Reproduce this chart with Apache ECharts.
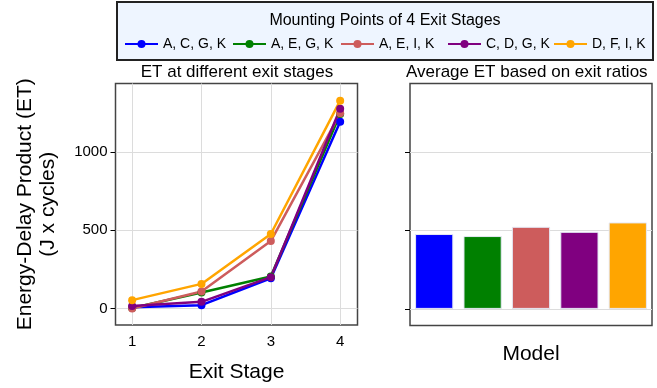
<!DOCTYPE html>
<html><head><meta charset="utf-8">
<script src="https://cdn.jsdelivr.net/npm/echarts@6/dist/echarts.min.js"></script>
<style>html,body{margin:0;padding:0;background:#fff}#c{width:657px;height:388px}</style>
</head><body><div id="c"></div>
<script>
const seriesNames = ['A, C, G, K', 'A, E, G, K', 'A, E, I, K', 'C, D, G, K', 'D, F, I, K'];
const colors = ['#0000ff', '#008000', '#cd5c5c', '#800080', '#ffa500'];
const exitStages = [1, 2, 3, 4];
const etACGK = [8, 21, 193, 1195];
const etAEGK = [3, 102, 204, 1244];
const etAEIK = [0, 108, 431, 1248];
const etCDGK = [15, 42, 200, 1278];
const etDFIK = [53, 157, 476, 1329];
const avgET = [478, 465, 524, 492, 552];
const yTicks = [0, 500, 1000];
const xTicks = [1, 2, 3, 4];

const lineData = [etACGK, etAEGK, etAEIK, etCDGK, etDFIK];
const FONT = 'Liberation Sans, Arial, sans-serif';
const legendLefts = [124, 232, 340, 447, 553];

const chart = echarts.init(document.getElementById('c'), null, {renderer: 'canvas'});
const series = [];
lineData.forEach((d, i) => {
  series.push({
    name: seriesNames[i], type: 'line', xAxisIndex: 0, yAxisIndex: 0,
    data: exitStages.map((x, j) => [x, d[j]]),
    symbol: 'circle', symbolSize: 8,
    lineStyle: {color: colors[i], width: 2.5},
    itemStyle: {color: colors[i]},
    emphasis: {disabled: true}, animation: false
  });
});
series.push({
  type: 'bar', xAxisIndex: 1, yAxisIndex: 1,
  data: avgET.map((v, i) => ({value: v, itemStyle: {color: colors[i]}})),
  barCategoryGap: '21%',
  itemStyle: {borderColor: '#e5e8f4', borderWidth: 1},
  animation: false
});

const option = {
  animation: false,
  textStyle: {fontFamily: FONT},
  graphic: [{
    type: 'rect', shape: {x: 117, y: 2, width: 536, height: 58},
    style: {fill: '#eef5ff', stroke: '#222', lineWidth: 2}, z: -1
  }],
  title: [
    {text: 'Mounting Points of 4 Exit Stages', left: 385, textAlign: 'center', top: 13, padding: 0,
     textStyle: {fontSize: 16, fontWeight: 'normal', color: '#000', fontFamily: FONT}},
    {text: 'ET at different exit stages', left: 237, textAlign: 'center', top: 64, padding: 0,
     textStyle: {fontSize: 17, fontWeight: 'normal', color: '#000', fontFamily: FONT}},
    {text: 'Average ET based on exit ratios', left: 406, top: 64, padding: 0,
     textStyle: {fontSize: 17, fontWeight: 'normal', color: '#000', fontFamily: FONT}}
  ],
  legend: seriesNames.map((n, i) => ({
    data: [n], left: legendLefts[i], top: 37, padding: 0,
    itemWidth: 33, itemHeight: 10, selectedMode: false,
    textStyle: {fontSize: 14, color: '#000', fontFamily: FONT}
  })),
  grid: [
    {left: 115.5, top: 83.5, width: 242, height: 242, show: true, borderColor: '#444', borderWidth: 1.5, backgroundColor: 'transparent'},
    {left: 410, top: 83.5, width: 242, height: 242, show: true, borderColor: '#444', borderWidth: 1.5, backgroundColor: 'transparent'}
  ],
  xAxis: [
    {type: 'value', gridIndex: 0, min: 0.76, max: 4.25,
     name: 'Exit Stage', nameLocation: 'middle', nameGap: 37,
     nameTextStyle: {fontSize: 21, color: '#000', fontFamily: FONT},
     axisLine: {show: false},
     axisTick: {show: false, customValues: xTicks},
     axisLabel: {customValues: xTicks, fontSize: 15, color: '#000', margin: 9, fontFamily: FONT},
     splitLine: {show: true, lineStyle: {color: '#dcdcdc', width: 1}}},
    {type: 'category', gridIndex: 1, data: seriesNames,
     name: 'Model', nameLocation: 'middle', nameGap: 18,
     nameTextStyle: {fontSize: 21, color: '#000', fontFamily: FONT},
     axisLine: {show: false}, axisTick: {show: false}, axisLabel: {show: false},
     splitLine: {show: false}}
  ],
  yAxis: [
    {type: 'value', gridIndex: 0, min: -106, max: 1439,
     name: 'Energy-Delay Product (ET)\n(J x cycles)', nameLocation: 'middle', nameRotate: 90, nameGap: 56,
     nameTextStyle: {fontSize: 21, lineHeight: 23, color: '#000', fontFamily: FONT},
     axisLine: {show: false},
     axisTick: {show: true, inside: false, length: 5, customValues: yTicks, lineStyle: {color: '#000', width: 1}},
     axisLabel: {customValues: yTicks, fontSize: 15, color: '#000', margin: 8, fontFamily: FONT,
                 formatter: v => String(v)},
     splitLine: {show: true, lineStyle: {color: '#dcdcdc', width: 1}}},
    {type: 'value', gridIndex: 1, min: -106, max: 1439,
     axisLine: {show: false},
     axisTick: {show: true, inside: false, length: 5, customValues: yTicks, lineStyle: {color: '#000', width: 1}},
     axisLabel: {show: false, customValues: yTicks},
     splitLine: {show: true, lineStyle: {color: '#dcdcdc', width: 1}}}
  ],
  series: series
};
chart.setOption(option);
</script></body></html>
